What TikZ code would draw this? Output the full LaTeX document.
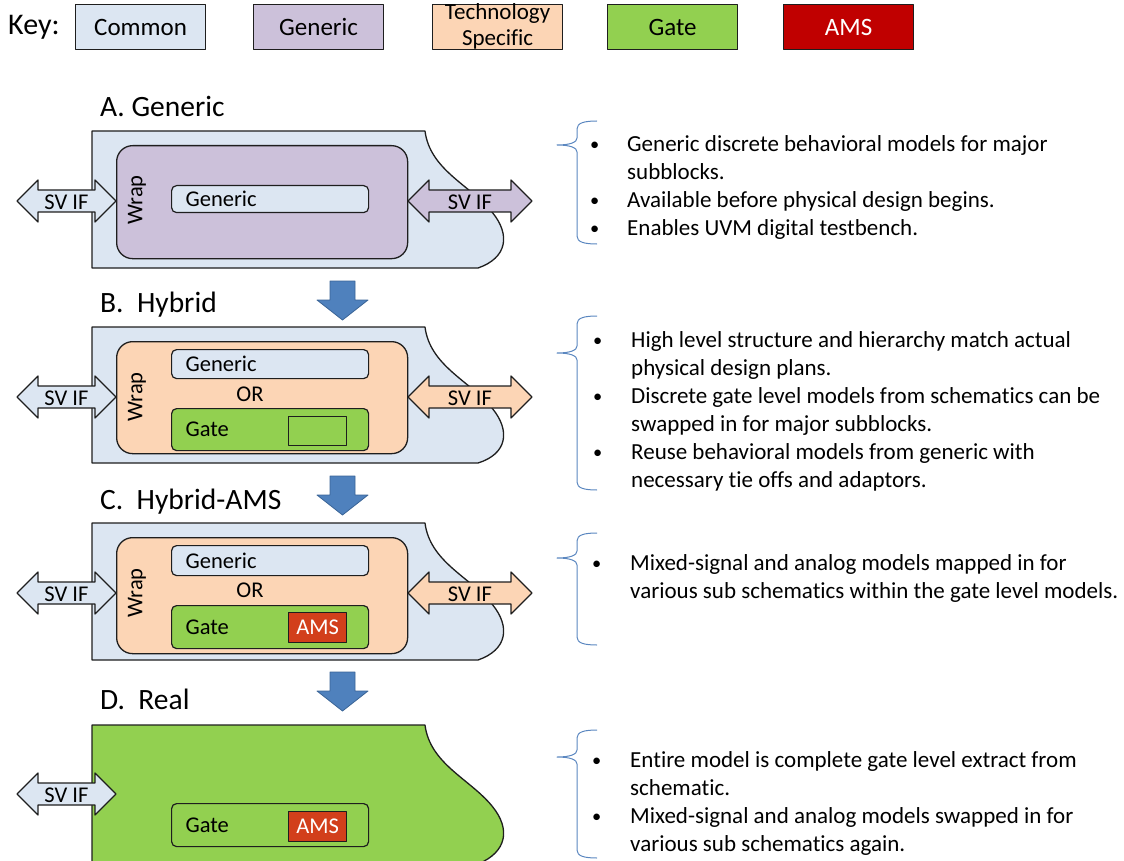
\documentclass[tikz,border=0pt]{standalone}
\usepackage{fontspec}
\setmainfont{Carlito}[Ligatures=NoCommon]
\definecolor{common}{HTML}{DCE6F2}
\definecolor{generic}{HTML}{CCC1DA}
\definecolor{techspec}{HTML}{FCD5B5}
\definecolor{gate}{HTML}{92D050}
\definecolor{amskey}{HTML}{C00000}
\definecolor{ams}{HTML}{D23F1B}
\definecolor{flow}{HTML}{4F81BD}
\definecolor{flowedge}{HTML}{3A6496}
\definecolor{edge}{HTML}{1E1E1E}
\definecolor{bracecol}{HTML}{5B87C0}

% double-headed interface arrow: name, left x, right x, centre y, fill
\newcommand\svarrow[5]{%
  \path[svline, fill=#5] (#2,#4) -- ({#2+21},{#4-21}) -- ({#2+21},{#4-11})
    -- ({#3-21},{#4-11}) -- ({#3-21},{#4-21}) -- (#3,#4) -- ({#3-21},{#4+21})
    -- ({#3-21},{#4+11}) -- ({#2+21},{#4+11}) -- ({#2+21},{#4+21}) -- cycle;
  \node[svlabel] (#1) at ({(#2+#3)/2},{#4+1}) {SV IF};}

% block outline with the torn right edge: top y, bottom y, fill
\newcommand\blockshape[3]{%
  \path[outline, fill=#3] (92,#1) -- (425,#1)
    .. controls (430,{#1+39}) and (470,{#1+54}) .. (492,{#1+81})
    .. controls (511,{#1+104}) and (507,{#1+127}) .. (478,#2)
    -- (92,#2) -- cycle;}

% block arrow between stages: top y
\newcommand\stagearrow[1]{%
  \path[fill=flow, draw=flowedge, line width=0.8pt] (330,#1) -- (355,#1)
    -- (355,{#1+19}) -- (368,{#1+19}) -- (342.5,{#1+39}) -- (317,{#1+19})
    -- (330,{#1+19}) -- cycle;}

% curly bracket in front of a bullet list: top y, tip y, bottom y
\newcommand\sidebrace[3]{%
  \draw[bracecol, line width=1pt] (597,#1) .. controls (584,#1) and (577,{#1+2}) .. (577,{#1+8})
    -- (577,{#2-7}) .. controls (577,{#2-3}) and (571,#2) .. (557,#2)
    .. controls (571,#2) and (577,{#2+3}) .. (577,{#2+7})
    -- (577,{#3-8}) .. controls (577,{#3-2}) and (584,#3) .. (597,#3);}

\newcommand\dotitem{\raisebox{1pt}{\scalebox{0.8}{\textbullet}}}

\begin{document}
\begin{tikzpicture}[x=1pt, y=-1pt, line join=round,
  keybox/.style={draw=edge, line width=1.2pt, minimum width=130pt, minimum height=45pt,
    inner sep=0pt, anchor=north west, font=\fontsize{25}{28}\selectfont},
  outline/.style={draw=edge, line width=1.3pt},
  wrapbox/.style={draw=edge, line width=1.3pt, rounded corners=16pt, anchor=north west,
    minimum width=291pt, inner sep=0pt},
  innerbox/.style={draw=edge, line width=1.2pt, rounded corners=5pt, anchor=north west,
    minimum width=197pt, text width=169pt, inner xsep=14pt, inner ysep=0pt, align=left,
    font=\fontsize{22.5}{24}\selectfont},
  amsbox/.style={draw=edge, line width=1.2pt, fill=ams, anchor=north west, minimum width=58pt,
    minimum height=30pt, inner sep=0pt, text=white, font=\fontsize{22.5}{24}\selectfont},
  svline/.style={draw=edge, line width=1.2pt},
  svlabel/.style={inner sep=0pt, font=\fontsize{22.5}{24}\selectfont},
  wraplabel/.style={rotate=90, inner sep=0pt, font=\fontsize{22.5}{24}\selectfont},
  plain/.style={inner sep=0pt, font=\fontsize{22.5}{24}\selectfont},
  title/.style={anchor=base west, inner sep=0pt, font=\fontsize{29.5}{32}\selectfont},
  desc/.style={anchor=base west, inner sep=0pt, font=\fontsize{23}{28}\selectfont},
]
\useasboundingbox (0,0) rectangle (1124,861);
\clip (0,0) rectangle (1124,861);

% ---- key ----
\node[anchor=west, inner sep=0pt, font=\fontsize{30}{32}\selectfont] (keylabel) at (8,27) {Key:};
\node[keybox, fill=common] (kcommon) at (75,4) {Common};
\node[keybox, fill=generic] (kgeneric) at (253,4) {Generic};
\node[keybox, fill=techspec] (ktech) at (432,4) {};
\node[plain, align=center, font=\fontsize{23}{26}\selectfont] (ktechtext) at ([yshift=1pt]ktech.center) {Technology\\Specific};
\node[keybox, fill=gate] (kgate) at (607,4) {Gate};
\node[keybox, fill=amskey, text=white] (kams) at (783,4) {AMS};

% ---- A. Generic ----
\node[title] (titleA) at (100,117) {A. Generic};
\blockshape{131}{268}{common}
\node[wrapbox, fill=generic, minimum height=113pt] (wrapA) at (116,145) {};
\node[wraplabel] (wrapAlbl) at (137,200) {Wrap};
\node[innerbox, fill=common, minimum height=27pt] (genA) at (171,185) {Generic};
\svarrow{svAl}{17}{116}{201}{common}
\svarrow{svAr}{408}{532}{201}{generic}

\stagearrow{281}

% ---- B. Hybrid ----
\node[title] (titleB) at (100,312) {B.\ \ Hybrid};
\blockshape{327}{463}{common}
\node[wrapbox, fill=techspec, minimum height=112pt] (wrapB) at (116,341) {};
\node[wraplabel] (wrapBlbl) at (137,397) {Wrap};
\node[innerbox, fill=common, minimum height=29pt] (genB) at (171,349) {Generic};
\node[plain] (orB) at (250,394) {OR};
\node[innerbox, fill=gate, minimum height=42pt] (gateB) at (171,408) {Gate};
\node[draw=edge, line width=1.2pt, anchor=north west, minimum width=58pt, minimum height=29pt, inner sep=0pt] (slotB) at (288,416) {};
\svarrow{svBl}{17}{116}{397}{common}
\svarrow{svBr}{408}{532}{397}{techspec}

\stagearrow{476}

% ---- C. Hybrid-AMS ----
\node[title] (titleC) at (100,509) {C.\ \ Hybrid-AMS};
\blockshape{523}{660}{common}
\node[wrapbox, fill=techspec, minimum height=116pt] (wrapC) at (116,537) {};
\node[wraplabel] (wrapClbl) at (137,593) {Wrap};
\node[innerbox, fill=common, minimum height=30pt] (genC) at (171,545) {Generic};
\node[plain] (orC) at (250,590) {OR};
\node[innerbox, fill=gate, minimum height=43pt] (gateC) at (171,605) {Gate};
\node[amsbox] (amsC) at (288,612) {AMS};
\svarrow{svCl}{17}{116}{593}{common}
\svarrow{svCr}{408}{532}{593}{techspec}

\stagearrow{672}

% ---- D. Real ----
\node[title] (titleD) at (100,709) {D.\ \ Real};
\blockshape{725}{864}{gate}
\node[innerbox, fill=gate, minimum height=43pt] (gateD) at (171,803) {Gate};
\node[amsbox] (amsD) at (288,811) {AMS};
\svarrow{svDl}{17}{116}{794}{common}

% ---- notes ----
\sidebrace{121}{145}{244}
\node[desc] (notesA) at (590,152) {\begin{tabular}[t]{@{}p{37pt}@{}l@{}}
\dotitem & Generic discrete behavioral models for major\\
 & subblocks.\\
\dotitem & Available before physical design begins.\\
\dotitem & Enables UVM digital testbench.
\end{tabular}};

\sidebrace{316}{353}{490}
\node[desc] (notesB) at (593,347) {\begin{tabular}[t]{@{}p{38pt}@{}l@{}}
\dotitem & High level structure and hierarchy match actual\\
 & physical design plans.\\
\dotitem & Discrete gate level models from schematics can be\\
 & swapped in for major subblocks.\\
\dotitem & Reuse behavioral models from generic with\\
 & necessary tie offs and adaptors.
\end{tabular}};

\sidebrace{533}{558}{645}
\node[desc] (notesC) at (592,570) {\begin{tabular}[t]{@{}p{38pt}@{}l@{}}
\dotitem & Mixed-signal and analog models mapped in for\\
 & various sub schematics within the gate level models.
\end{tabular}};

\sidebrace{730}{757}{858}
\node[desc] (notesD) at (592,767) {\begin{tabular}[t]{@{}p{38pt}@{}l@{}}
\dotitem & Entire model is complete gate level extract from\\
 & schematic.\\
\dotitem & Mixed-signal and analog models swapped in for\\
 & various sub schematics again.
\end{tabular}};
\end{tikzpicture}
\end{document}
